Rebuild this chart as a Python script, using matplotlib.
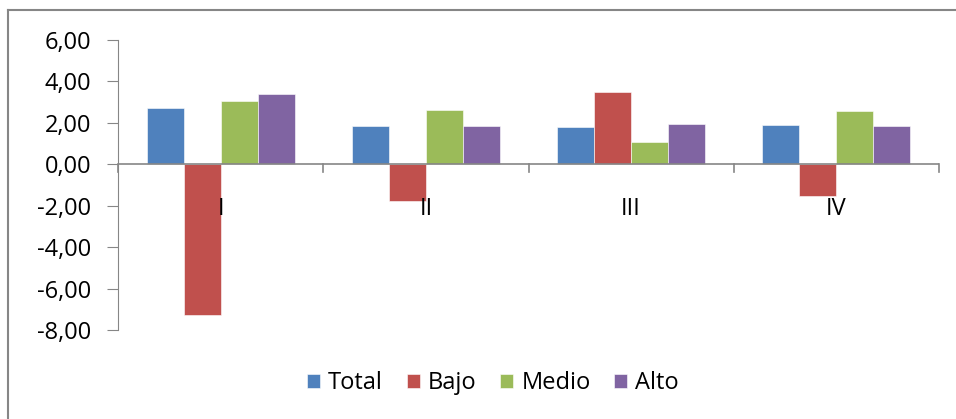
import matplotlib
matplotlib.use("Agg")
import matplotlib.pyplot as plt
from matplotlib.lines import Line2D
import numpy as np

# ── Data ──────────────────────────────────────────────────────────────────────
categories = ["I", "II", "III", "IV"]
series_names = ["Total", "Bajo", "Medio", "Alto"]
total = [2.74, 1.85, 1.80, 1.88]
bajo = [-7.27, -1.75, 3.51, -1.51]
medio = [3.06, 2.61, 1.08, 2.56]
alto = [3.41, 1.85, 1.96, 1.83]
y_ticks = [-8, -6, -4, -2, 0, 2, 4, 6]

COLORS = ["#4F81BD", "#C0504D", "#9BBB59", "#8064A2"]
GRID = "#868686"
FS = 17

plt.rcParams["font.family"] = ["Open Sans", "DejaVu Sans"]

W, H = 956, 419
fig = plt.figure(figsize=(W / 100, H / 100), dpi=100)
ax = fig.add_axes([118 / W, 1 - 330 / H, (939 - 118) / W, (330 - 40) / H])

x = np.arange(len(categories))
bw = 0.18
for i, (vals, name) in enumerate(zip([total, bajo, medio, alto], series_names)):
    ax.bar(x + (i - 1.5) * bw, vals, bw, color=COLORS[i], label=name,
           edgecolor="white", linewidth=0.4)

ax.set_xlim(-0.5, len(categories) - 0.5)
ax.set_ylim(-8, 6)
ax.set_yticks(y_ticks)
ax.set_yticklabels([f"{v:.2f}".replace(".", ",") for v in y_ticks], fontsize=FS)
ax.tick_params(axis="y", direction="out", length=8, color=GRID, pad=11)

for s in ["top", "right", "bottom"]:
    ax.spines[s].set_visible(False)
ax.spines["left"].set_color(GRID)

# category axis at zero
ax.axhline(0, color=GRID, linewidth=1.2, zorder=3)
ax.set_xticks([])
for b in np.arange(-0.5, len(categories), 1.0):
    ax.plot([b, b], [0, -0.38], color=GRID, linewidth=1.2, clip_on=False, zorder=3)
for xi, c in zip(x, categories):
    ax.text(xi, -2.15, c, ha="center", va="center", fontsize=FS)

fig.legend(loc="center", bbox_to_anchor=(493 / W, 1 - 383 / H), ncol=4, frameon=False,
           fontsize=FS, handlelength=0.55, handleheight=0.55, handletextpad=0.35,
           columnspacing=1.0)

# outer chart frame (only top and left edges visible in the crop)
fig.add_artist(Line2D([8 / W, 8 / W], [0, 1 - 10 / H], transform=fig.transFigure,
                      color=GRID, linewidth=1.5))
fig.add_artist(Line2D([8 / W, 1], [1 - 10 / H, 1 - 10 / H], transform=fig.transFigure,
                      color=GRID, linewidth=1.5))

fig.savefig("out.png", dpi=100, facecolor="white")
